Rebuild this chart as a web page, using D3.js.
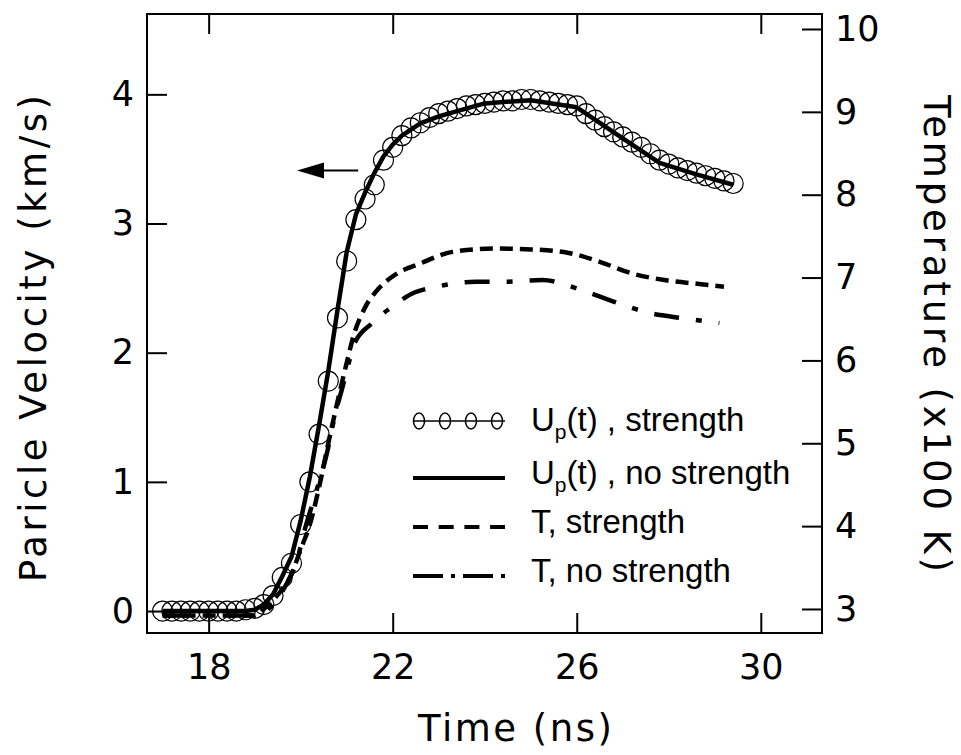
<!DOCTYPE html>
<html>
<head>
<meta charset="utf-8">
<script src="https://cdn.jsdelivr.net/npm/d3@7"></script>
<style>
  body { margin: 0; background: #fff; }
</style>
</head>
<body>
<div id="chart"></div>
<script>
// U_p(t) with strength (open circles), every 0.2 ns
const upStrTime = [17.0, 17.2, 17.4, 17.6, 17.8, 18.0, 18.2, 18.4, 18.6, 18.8,
  19.0, 19.2, 19.4, 19.6, 19.8, 20.0, 20.2, 20.4, 20.6, 20.8,
  21.0, 21.2, 21.4, 21.6, 21.8, 22.0, 22.2, 22.4, 22.6, 22.8,
  23.0, 23.2, 23.4, 23.6, 23.8, 24.0, 24.2, 24.4, 24.6, 24.8,
  25.0, 25.2, 25.4, 25.6, 25.8, 26.0, 26.2, 26.4, 26.6, 26.8,
  27.0, 27.2, 27.4, 27.6, 27.8, 28.0, 28.2, 28.4, 28.6, 28.8,
  29.0, 29.2, 29.4];
const upStr = [0, 0, 0, 0, 0, 0, 0, 0, 0, 0.01,
  0.02, 0.05, 0.12, 0.26, 0.37, 0.67, 1.00, 1.37, 1.78, 2.27,
  2.71, 3.03, 3.19, 3.30, 3.49, 3.59, 3.68, 3.74, 3.78, 3.82,
  3.85, 3.87, 3.89, 3.91, 3.92, 3.93, 3.94, 3.95, 3.95, 3.96,
  3.96, 3.95, 3.94, 3.93, 3.92, 3.91, 3.85, 3.80, 3.75, 3.71,
  3.67, 3.63, 3.59, 3.54, 3.49, 3.46, 3.43, 3.41, 3.39, 3.37,
  3.35, 3.33, 3.31];

// U_p(t) without strength (solid line)
const upNoTime = [17.0, 18.8, 19.0, 19.2, 19.4, 19.6, 19.8, 20.0, 20.2, 20.4, 20.6, 20.8,
  21.0, 21.2, 21.4, 21.6, 21.8, 22.0, 22.2, 22.6, 23.0, 23.4, 24.0, 25.0, 26.0, 27.0,
  27.8, 28.6, 29.4];
const upNo = [0, 0, 0.01, 0.05, 0.13, 0.27, 0.42, 0.70, 1.04, 1.44, 1.86, 2.33,
  2.78, 3.07, 3.24, 3.39, 3.52, 3.61, 3.68, 3.775, 3.83, 3.87, 3.93, 3.955, 3.90, 3.66,
  3.47, 3.38, 3.30];

// temperature with strength (dashed), x100 K
const tStrTime = [17.0, 19.0, 19.2, 19.5, 19.8, 20.0, 20.2, 20.4, 20.6, 20.8, 21.0, 21.15,
  21.4, 21.7, 22.1, 22.6, 23.3, 24.2, 25.0, 25.8, 26.5, 27.2, 27.9, 28.7, 29.2];
const tStr = [2.92, 2.92, 3.0, 3.17, 3.42, 3.72, 4.02, 4.47, 5.0, 5.5, 5.97, 6.3,
  6.64, 6.87, 7.05, 7.17, 7.31, 7.35, 7.34, 7.30, 7.19, 7.05, 6.97, 6.92, 6.89];

// temperature without strength (dash-dot), x100 K
const tNoTime = [17.0, 19.0, 19.3, 19.7, 19.9, 20.1, 20.35, 20.57, 20.75, 20.9, 21.05, 21.15,
  21.55, 22.1, 22.3, 23.05, 23.8, 24.5, 25.25, 26.05, 26.8, 27.6, 28.3, 29.1];
const tNo = [2.92, 2.92, 3.0, 3.31, 3.55, 3.98, 4.44, 4.88, 5.35, 5.66, 5.98, 6.18,
  6.45, 6.69, 6.77, 6.90, 6.95, 6.95, 6.97, 6.86, 6.71, 6.57, 6.51, 6.45];

const timeTicks = [18, 22, 26, 30];
const velTicks = [0, 1, 2, 3, 4];
const tempTicks = [3, 4, 5, 6, 7, 8, 9, 10];

const legendLabels = ['(t) , strength', '(t) , no strength', 'T, strength', 'T, no strength'];

const dimension = {
  width: 961,
  height: 755,
  margin: { top: 14, left: 147, right: 139, bottom: 122 }
};
const w = dimension.width - dimension.margin.left - dimension.margin.right;
const h = dimension.height - dimension.margin.top - dimension.margin.bottom;

const svg = d3.select('#chart')
  .append('svg')
  .attr('width', dimension.width)
  .attr('height', dimension.height);

const ctr = svg.append('g')
  .attr('transform', `translate(${dimension.margin.left}, ${dimension.margin.top})`);

const xScale = d3.scaleLinear().domain([16.66, 31.33]).range([0, w]);
const yVel = d3.scaleLinear().domain([-0.17, 4.622]).range([h, 0]);
const yTemp = d3.scaleLinear().domain([2.71, 10.181]).range([h, 0]);

const tickFont = "'DejaVu Sans', sans-serif";

function styleAxis(g) {
  g.select('.domain').remove();
  g.selectAll('.tick line').attr('stroke', '#000').attr('stroke-width', 2);
  g.selectAll('.tick text')
    .attr('fill', '#000')
    .style('font-family', tickFont)
    .style('font-size', '35px');
}

ctr.append('g')
  .attr('transform', `translate(0, ${h})`)
  .call(d3.axisBottom(xScale).tickValues(timeTicks).tickSizeInner(-20).tickSizeOuter(0)
    .tickPadding(21).tickFormat(d3.format('d')))
  .call(styleAxis);

ctr.append('g')
  .call(d3.axisTop(xScale).tickValues(timeTicks).tickSizeInner(-20).tickSizeOuter(0)
    .tickFormat(''))
  .call(styleAxis);

ctr.append('g')
  .call(d3.axisLeft(yVel).tickValues(velTicks).tickSizeInner(-20).tickSizeOuter(0)
    .tickPadding(13).tickFormat(d3.format('d')))
  .call(styleAxis);

ctr.append('g')
  .attr('transform', `translate(${w}, 0)`)
  .call(d3.axisRight(yTemp).tickValues(tempTicks).tickSizeInner(-20).tickSizeOuter(0)
    .tickPadding(13).tickFormat(d3.format('d')))
  .call(styleAxis);

// frame
ctr.append('rect')
  .attr('width', w)
  .attr('height', h)
  .attr('fill', 'none')
  .attr('stroke', '#000')
  .attr('stroke-width', 2);

// temperature curves
const tempLine = d3.line()
  .x(d => xScale(d[0]))
  .y(d => yTemp(d[1]))
  .curve(d3.curveMonotoneX);

ctr.append('path')
  .attr('d', tempLine(d3.zip(tStrTime, tStr)))
  .attr('fill', 'none')
  .attr('stroke', '#000')
  .attr('stroke-width', 4.5)
  .attr('stroke-dasharray', '13,7');

ctr.append('path')
  .attr('d', tempLine(d3.zip(tNoTime, tNo)))
  .attr('fill', 'none')
  .attr('stroke', '#000')
  .attr('stroke-width', 4.5)
  .attr('stroke-dasharray', '25,17,6,17');

// velocity curves
ctr.selectAll('circle.up')
  .data(d3.zip(upStrTime, upStr))
  .join('circle')
  .attr('class', 'up')
  .attr('cx', d => xScale(d[0]))
  .attr('cy', d => yVel(d[1]))
  .attr('r', 10)
  .attr('fill', 'none')
  .attr('stroke', '#000')
  .attr('stroke-width', 1.2);

const velLine = d3.line()
  .x(d => xScale(d[0]))
  .y(d => yVel(d[1]));

ctr.append('path')
  .attr('d', velLine(d3.zip(upNoTime, upNo)))
  .attr('fill', 'none')
  .attr('stroke', '#000')
  .attr('stroke-width', 4.5)
  .attr('stroke-linejoin', 'round');

// arrow pointing to the left axis
const arrowV = 3.41;
const ay = yVel(arrowV);
const tipX = xScale(19.92);
ctr.append('line')
  .attr('x1', xScale(21.25)).attr('x2', tipX + 20)
  .attr('y1', ay).attr('y2', ay)
  .attr('stroke', '#000').attr('stroke-width', 2);
ctr.append('path')
  .attr('d', `M${tipX},${ay}L${tipX + 27},${ay - 8}L${tipX + 27},${ay + 8}Z`)
  .attr('fill', '#000');

// legend
const lg = svg.append('g');
const lineY = [421, 478, 527, 576];
const textY = [431, 484, 533, 582];
const lx0 = 413, lx1 = 505, tx = 531;

lg.append('line')
  .attr('x1', lx0).attr('x2', lx1).attr('y1', lineY[0]).attr('y2', lineY[0])
  .attr('stroke', '#000').attr('stroke-width', 1.5);
lg.selectAll('ellipse')
  .data([0, 1, 2, 3])
  .join('ellipse')
  .attr('cx', d => 419 + d * 26)
  .attr('cy', lineY[0])
  .attr('rx', 5.5)
  .attr('ry', 8)
  .attr('fill', 'none')
  .attr('stroke', '#000')
  .attr('stroke-width', 1.5);

const dashes = [null, null, '15,10.7', '30,8,4,8'];
[1, 2, 3].forEach(i => {
  lg.append('line')
    .attr('x1', lx0).attr('x2', lx1).attr('y1', lineY[i]).attr('y2', lineY[i])
    .attr('stroke', '#000').attr('stroke-width', 4)
    .attr('stroke-dasharray', dashes[i]);
});

legendLabels.forEach((label, i) => {
  const t = lg.append('text')
    .attr('x', tx)
    .attr('y', textY[i])
    .style('font-family', "'Liberation Sans', Arial, sans-serif")
    .style('font-size', '33px')
    .attr('fill', '#000');
  if (i < 2) {
    t.append('tspan').text('U');
    t.append('tspan').attr('dy', 8).style('font-size', '21px').text('p');
    t.append('tspan').attr('dy', -8).text(label);
  } else {
    t.text(label);
  }
});

// axis titles
const titleFont = "'DejaVu Sans', sans-serif";
svg.append('text')
  .attr('x', 418).attr('y', 741)
  .attr('textLength', 194).attr('lengthAdjust', 'spacing')
  .style('font-family', titleFont).style('font-size', '37px')
  .text('Time  (ns)');

svg.append('text')
  .attr('transform', 'translate(46, 582) rotate(-90)')
  .attr('textLength', 487).attr('lengthAdjust', 'spacing')
  .style('font-family', titleFont).style('font-size', '37px')
  .text('Paricle Velocity  (km/s)');

svg.append('text')
  .attr('transform', 'translate(924, 95) rotate(90)')
  .attr('textLength', 477).attr('lengthAdjust', 'spacing')
  .style('font-family', titleFont).style('font-size', '37px')
  .text('Temperature  (x100 K)');
</script>
</body>
</html>
